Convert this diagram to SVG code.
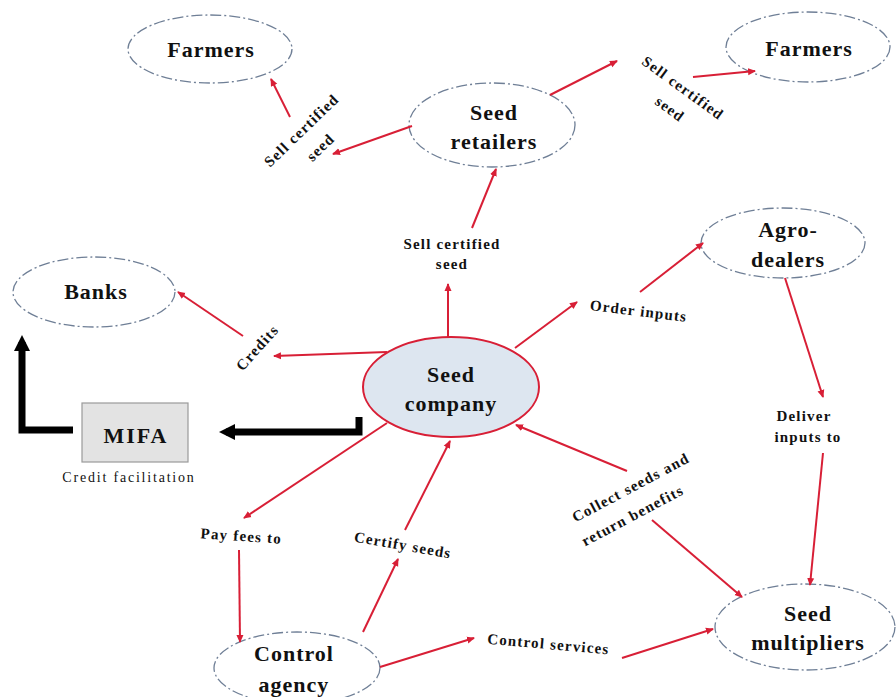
<svg xmlns="http://www.w3.org/2000/svg" width="896" height="697" viewBox="0 0 896 697">
<defs>
<marker id="ar" markerWidth="8" markerHeight="8" refX="7" refY="4" orient="auto" markerUnits="userSpaceOnUse">
<path d="M0,0.5 L8,4 L0,7.5 Z" fill="#d81f36"/>
</marker>
<marker id="ab" markerWidth="18" markerHeight="18" refX="9" refY="9" orient="auto" markerUnits="userSpaceOnUse">
<path d="M0,1 L16,9 L0,17 Z" fill="#000"/>
</marker>
</defs>
<style>
.n{fill:none;stroke:#6f7f96;stroke-width:1.3;stroke-dasharray:11 3 2 3}
.t{font-family:"Liberation Serif","Times New Roman",serif;font-weight:bold;font-size:22px;letter-spacing:1px;fill:#111;text-anchor:middle}
.l{font-family:"Liberation Serif","Times New Roman",serif;font-weight:bold;font-size:15px;letter-spacing:1.2px;fill:#111;text-anchor:middle}
.r{fill:none;stroke:#d81f36;stroke-width:2;marker-end:url(#ar)}
.k{fill:none;stroke:#000;stroke-width:7;marker-end:url(#ab)}
</style>
<rect width="896" height="697" fill="#fff"/>

<g id="farmers-left"><ellipse class="n" cx="210" cy="49" rx="82" ry="34"/><text class="t" x="211" y="57">Farmers</text></g>
<g id="farmers-right"><ellipse class="n" cx="808" cy="47" rx="82" ry="35"/><text class="t" x="809" y="56">Farmers</text></g>
<g id="seed-retailers"><ellipse class="n" cx="492" cy="125" rx="83" ry="42"/><text class="t" x="494" y="120">Seed</text><text class="t" x="494" y="149">retailers</text></g>
<g id="agro-dealers"><ellipse class="n" cx="783" cy="243" rx="82" ry="35"/><text class="t" x="788" y="237">Agro-</text><text class="t" x="788" y="267">dealers</text></g>
<g id="banks"><ellipse class="n" cx="94" cy="292" rx="81" ry="35"/><text class="t" x="96" y="299">Banks</text></g>
<g id="seed-company"><ellipse cx="451" cy="387" rx="88" ry="50" fill="#dde6f0" stroke="#d81f36" stroke-width="2"/><text class="t" x="451" y="382">Seed</text><text class="t" x="451" y="411">company</text></g>
<g id="mifa"><rect x="82" y="403" width="106" height="59" fill="#e3e3e3" stroke="#9a9a9a" stroke-width="1.2"/><text class="t" x="136" y="443" style="letter-spacing:2px">MIFA</text><text x="129" y="482" font-family="Liberation Serif, Times New Roman, serif" font-size="14" letter-spacing="1.8" fill="#111" text-anchor="middle">Credit facilitation</text></g>
<g id="control-agency"><ellipse class="n" cx="297" cy="668" rx="83" ry="36"/><text class="t" x="294" y="661">Control</text><text class="t" x="294" y="692">agency</text></g>
<g id="seed-multipliers"><ellipse class="n" cx="805" cy="627" rx="90" ry="43"/><text class="t" x="808" y="621">Seed</text><text class="t" x="808" y="650">multipliers</text></g>

<g id="connectors">
<path class="r" d="M387,352 L274,356"/>
<path class="r" d="M243,336 L178,292"/>
<text class="l" transform="translate(261,351) rotate(-48)">Credits</text>
<path class="r" d="M448,337 L448,284"/>
<text class="l" x="452" y="249">Sell certified</text>
<text class="l" x="452" y="269">seed</text>
<path class="r" d="M472,228 L496,169"/>
<path class="r" d="M412,126 L333,154"/>
<text class="l" transform="translate(305,134) rotate(-44)">Sell certified</text>
<text class="l" transform="translate(324,151) rotate(-44)">seed</text>
<path class="r" d="M290,117 L271,79"/>
<path class="r" d="M550,95 L617,61"/>
<text class="l" transform="translate(680,92) rotate(36)">Sell certified</text>
<text class="l" transform="translate(667,113) rotate(36)">seed</text>
<path class="r" d="M693,77 L755,71"/>
<path class="r" d="M515,348 L577,302"/>
<text class="l" transform="translate(638,316) rotate(7)">Order inputs</text>
<path class="r" d="M640,292 L703,243"/>
<path class="r" d="M785,278 L823,397"/>
<text class="l" x="804" y="421">Deliver</text>
<text class="l" x="808" y="442">inputs to</text>
<path class="r" d="M823,453 L810,585"/>
<path class="r" d="M627,471 L516,425"/>
<text class="l" transform="translate(633,492) rotate(-28)">Collect seeds and</text>
<text class="l" transform="translate(635,520) rotate(-28)">return benefits</text>
<path class="r" d="M652,520 L742,597"/>
<path class="r" d="M387,423 L244,518"/>
<text class="l" transform="translate(241,541) rotate(4)">Pay fees to</text>
<path class="r" d="M239,550 L240,642"/>
<path class="r" d="M363,632 L398,559"/>
<text class="l" transform="translate(402,550) rotate(10)">Certify seeds</text>
<path class="r" d="M405,530 L450,441"/>
<path class="r" d="M380,667 L474,638"/>
<text class="l" transform="translate(548,649) rotate(5)">Control services</text>
<path class="r" d="M622,658 L713,629"/>
<path class="k" d="M359,417 L359,432 L226,432"/>
<path class="k" d="M73,430 L22,430 L22,342"/>
</g>
</svg>
